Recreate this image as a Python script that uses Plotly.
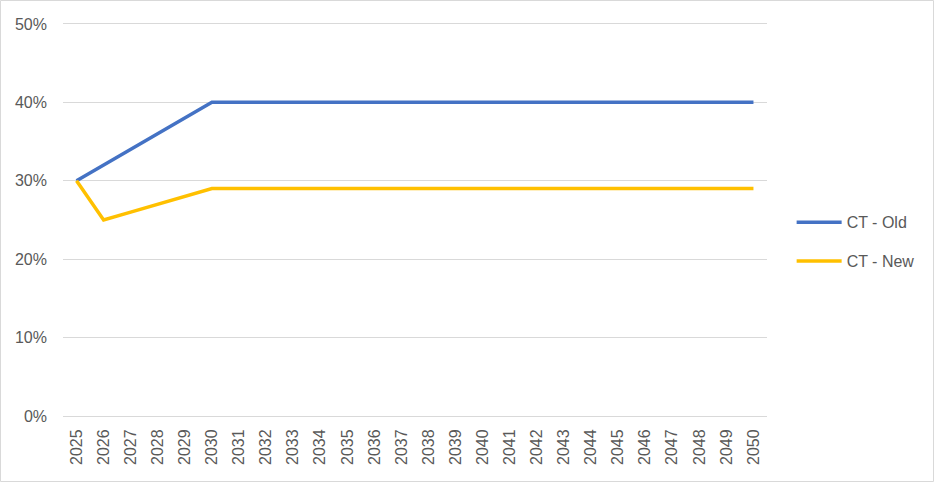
import plotly.graph_objects as go

years = list(range(2025, 2051))
ct_old = [0.30, 0.32, 0.34, 0.36, 0.38] + [0.40] * 21
ct_new = [0.30, 0.25, 0.26, 0.27, 0.28] + [0.29] * 21
y_ticks = [0, 0.1, 0.2, 0.3, 0.4, 0.5]

FONT = "Liberation Sans"
GRAY = "#595959"
GRID = "#d9d9d9"

fig = go.Figure()
fig.add_trace(go.Scatter(x=years, y=ct_old, mode="lines", name="CT - Old",
                         line=dict(color="#4472C4", width=3.5), legendgroup="a"))
fig.add_trace(go.Scatter(x=years, y=ct_new, mode="lines", name="CT - New",
                         line=dict(color="#FFC000", width=3.5), legendgroup="b"))

L, R, T, B = 63, 167, 20, 66
W, H = 934, 482
pw = W - L - R
ph = H - T - B

fig.update_layout(
    width=W, height=H,
    margin=dict(l=L, r=R, t=T, b=B),
    paper_bgcolor="white", plot_bgcolor="white",
    font=dict(family=FONT, size=16, color=GRAY),
    showlegend=True,
    legend=dict(x=1.035, y=0.44, xanchor="left", yanchor="middle",
                tracegroupgap=15, itemwidth=45, font=dict(size=16, color=GRAY),
                bgcolor="rgba(0,0,0,0)"),
    xaxis=dict(range=[2024.5, 2050.5], tickmode="array", tickvals=years,
               ticktext=[str(y) for y in years], tickangle=-90,
               showgrid=False, zeroline=False, showline=True,
               linecolor=GRID, linewidth=1, ticks="", ticklabelstandoff=6),
    yaxis=dict(range=[0, 0.505], tickmode="array", tickvals=y_ticks,
               tickformat=".0%", showgrid=True, gridcolor=GRID, gridwidth=1,
               zeroline=False, showline=False, ticks="", ticklabelstandoff=15),
    shapes=[dict(type="rect", xref="paper", yref="paper",
                 x0=-(L - 0.5) / pw, x1=(W - L - 0.5) / pw,
                 y0=-(B - 0.5) / ph, y1=(H - B - 0.5) / ph,
                 line=dict(color=GRID, width=1), layer="below")],
)

fig.write_html("out.html", config={"displayModeBar": False},
               post_script="document.body.style.margin='0';")
